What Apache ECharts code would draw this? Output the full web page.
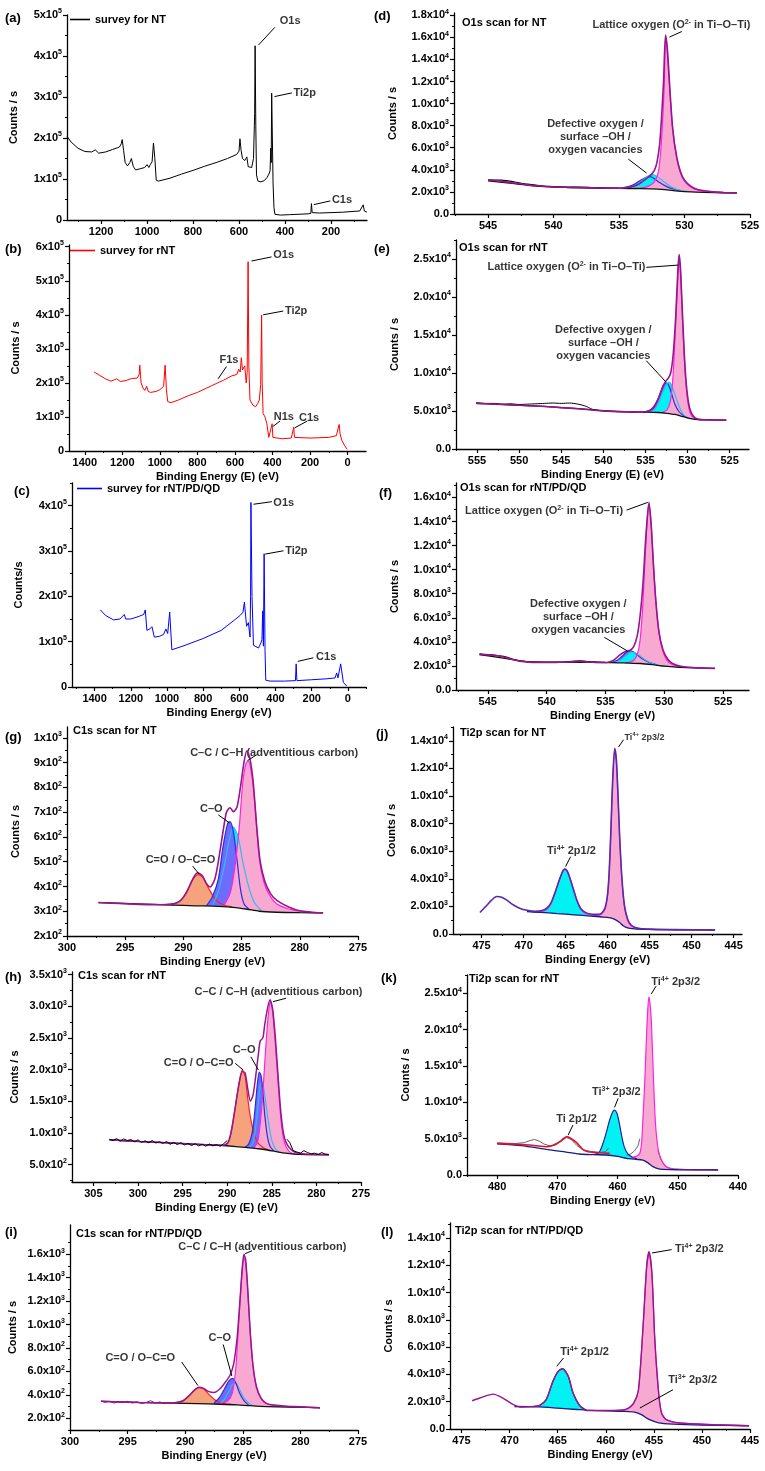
<!DOCTYPE html>
<html>
<head>
<meta charset="utf-8">
<script src="https://cdn.jsdelivr.net/npm/echarts@6/dist/echarts.min.js"></script>
<style>
  html, body { margin: 0; padding: 0; background: #fff; }
  #main { width: 765px; height: 1471px; }
</style>
</head>
<body>
<div id="main"></div>
<script>
// ---------- survey spectra [binding energy, counts/s] ----------
const aSurvey = [[1348,204000],[1330,190000],[1300,175000],[1270,167000],[1240,166000],[1225,171000],[1210,163000],[1180,166000],[1150,172000],[1130,176000],[1120,178000],[1112,186000],[1108,196000],[1102,170000],[1095,140000],[1085,132000],[1075,140000],[1068,150000],[1060,131000],[1050,122000],[1030,125000],[1010,128000],[1000,135000],[992,128000],[985,136000],[978,142000],[972,188000],[966,150000],[960,97000],[950,95000],[900,102000],[850,112000],[800,121000],[750,131000],[700,140000],[650,150000],[610,160000],[600,168000],[596,198000],[591,170000],[585,150000],[575,145000],[566,154000],[560,130000],[545,128000],[537,150000],[532,260000],[530,425000],[527,230000],[524,110000],[518,95000],[505,93000],[490,96000],[478,104000],[470,112000],[465,120000],[462,175000],[460,140000],[458,309000],[455,200000],[452,90000],[448,30000],[444,14000],[420,12000],[380,13000],[300,15000],[288,16000],[285,40000],[282,18000],[250,17000],[200,18000],[150,19000],[100,21000],[75,22000],[60,37000],[55,22000],[44,19000]];
const bSurvey = [[1350,232000],[1320,222000],[1290,212000],[1260,205000],[1230,212000],[1210,204000],[1180,207000],[1150,213000],[1120,214000],[1110,225000],[1107,252000],[1100,200000],[1090,185000],[1080,178000],[1070,190000],[1062,175000],[1050,172000],[1020,175000],[1000,180000],[990,178000],[980,190000],[972,252000],[965,180000],[958,145000],[940,142000],[900,150000],[850,162000],[800,172000],[750,185000],[700,198000],[680,203000],[660,208000],[620,220000],[590,225000],[580,240000],[572,232000],[566,274000],[560,238000],[548,250000],[540,200000],[535,230000],[530,556000],[526,250000],[520,150000],[505,135000],[490,130000],[478,140000],[470,150000],[463,195000],[458,399000],[455,200000],[450,110000],[440,100000],[430,80000],[420,40000],[410,35000],[402,80000],[398,40000],[350,36000],[300,38000],[287,70000],[283,40000],[200,38000],[100,40000],[60,45000],[45,78000],[40,50000],[30,30000],[15,15000],[2,5000]];
const cSurvey = [[1368,170000],[1340,158000],[1295,148000],[1260,150000],[1236,160000],[1228,150000],[1200,150000],[1160,155000],[1129,160000],[1120,170000],[1111,125000],[1095,128000],[1083,133000],[1070,110000],[1040,112000],[1019,116000],[1006,128000],[996,118000],[985,165000],[973,82000],[900,92000],[800,107000],[700,125000],[620,150000],[595,158000],[580,165000],[572,187000],[560,134000],[550,142000],[541,110000],[538,200000],[536,407000],[530,200000],[522,92000],[494,86000],[480,98000],[475,105000],[471,168000],[467,90000],[463,294000],[458,80000],[454,15000],[430,13000],[350,13000],[290,14000],[286,51000],[282,14000],[200,16000],[120,18000],[71,20000],[62,31000],[55,20000],[40,51000],[25,10000],[6,2000]];

// ---------- O1s NT (d) ----------
const dRaw  = [[545,3100],[544,3060],[543,2900],[542,2700],[541,2560],[540,2480],[539,2440],[538,2430],[537,2380],[536,2350],[535,2340]];
const dEnv  = [[545,3050],[544,2980],[543,2800],[542,2640],[541,2530],[540,2460],[539,2420],[538,2400],[537,2370],[536,2340],[535,2330],[534.5,2380],[534,2480],[533.5,2700],[533,3120],[532.6,3500],[532.3,3950],[532.1,4700],[531.9,6300],[531.75,8800],[531.6,12000],[531.45,16200],[531.3,14800],[531.1,11000],[530.9,7700],[530.6,5200],[530.3,3800],[530,3050],[529.5,2500],[529,2220],[528,2030],[527,1950],[526,1900]];
const dBg   = [[545,3000],[543,2760],[541,2500],[539,2400],[537,2350],[535,2320],[533.5,2300],[532.5,2280],[531.5,2200],[530.5,2080],[529.5,2000],[528.5,1960],[527,1920],[526,1900]];
const dBlue = [[535,2320],[534.3,2480],[533.8,2720],[533.3,3100],[532.9,3350],[532.6,3380],[532.3,3200],[531.9,2850],[531.4,2500],[530.8,2250],[530.2,2100]];
const dCyan = [[534.8,2320],[534.2,2420],[533.6,2700],[533.1,3150],[532.7,3500],[532.4,3560],[532.1,3400],[531.6,2950],[531,2450],[530.4,2150],[529.8,2040]];
const dPink = [[534,2310],[533.2,2380],[532.7,2550],[532.3,2900],[532,3800],[531.85,5200],[531.7,7800],[531.55,11500],[531.45,15900],[531.35,15200],[531.2,12500],[531,9000],[530.8,6600],[530.5,4500],[530.2,3400],[529.8,2700],[529.3,2300],[528.5,2050],[527.5,1960],[526.4,1905]];

// ---------- O1s rNT (e) ----------
const eRaw  = [[555.1,6100],[554,6000],[553,6000],[552,5900],[551,5950],[550,5850],[549,5900],[548,5950],[547,6000],[546,6050],[545,6000],[544,6050],[543,5900],[542,5600],[541.5,5300],[541,5150],[540,5000],[539,4950],[538,4900],[537,4900],[536,4850],[535,4850]];
const eEnv  = [[555.1,6000],[553,5900],[551,5800],[549,5700],[547,5600],[545,5450],[543,5300],[541,5100],[539,4950],[537,4880],[535.5,4850],[535,4900],[534.5,5050],[534,5500],[533.6,6300],[533.2,7400],[532.9,8300],[532.6,8900],[532.3,9300],[532,10000],[531.7,12500],[531.4,17500],[531.15,23500],[531,25600],[530.85,24000],[530.65,19000],[530.45,14000],[530.25,10000],[530,7000],[529.7,5200],[529.3,4300],[528.8,3950],[528,3850],[527,3820],[526,3800],[525.4,3800]];
const eBg   = [[555.1,6000],[551,5800],[547,5600],[543,5300],[540,5050],[537,4880],[535,4850],[533.5,4800],[532.5,4700],[531.5,4550],[530.5,4250],[529.5,3950],[528.5,3850],[527,3820],[525.4,3800]];
const eBlue = [[535.3,4850],[534.5,5100],[534,5600],[533.5,6600],[533.1,7800],[532.8,8500],[532.5,8700],[532.2,8300],[531.9,7300],[531.5,5900],[531,4900],[530.5,4400],[530,4100]];
const eCyan = [[534.5,4820],[533.9,5200],[533.4,6200],[532.9,7600],[532.5,8500],[532.2,8800],[531.9,8400],[531.5,7200],[531.1,5900],[530.7,4900],[530.2,4200],[529.7,3980]];
const ePink = [[533,4800],[532.4,5200],[532,6500],[531.7,10000],[531.45,15500],[531.2,21500],[531,25000],[530.85,23500],[530.65,18500],[530.45,13500],[530.25,9500],[530,6500],[529.7,4800],[529.3,4100],[528.8,3900],[528,3850],[527,3820],[525.9,3800]];

// ---------- O1s rNT/PD/QD (f) ----------
const fRaw  = [[545.7,3000],[544.5,2900],[543.5,2760],[542.5,2450],[541,2330],[539,2310],[537.2,2420],[536,2330],[535,2300]];
const fEnv  = [[545.7,2950],[545,2920],[544,2820],[543.5,2700],[543,2550],[542.3,2400],[541.5,2320],[540.5,2290],[540,2280],[539,2300],[538,2330],[537.2,2390],[536.5,2330],[535.5,2280],[534.9,2290],[534.3,2480],[533.8,2900],[533.3,3200],[532.9,3300],[532.6,3600],[532.3,4500],[532.05,6200],[531.8,9000],[531.55,13000],[531.3,15600],[531.1,13500],[530.9,10000],[530.7,7200],[530.45,4800],[530.1,3300],[529.7,2550],[529.3,2200],[528.5,1950],[527.3,1850],[526.5,1810],[525.7,1800]];
const fBg   = [[545.7,2950],[543,2550],[541.5,2320],[539,2290],[537,2300],[535,2280],[534,2260],[533,2240],[532,2200],[531,2100],[530,1980],[529,1900],[527.3,1840],[525.7,1800]];
const fBlue = [[534.6,2270],[534,2480],[533.6,2800],[533.2,3150],[532.9,3250],[532.6,3150],[532.2,2850],[531.8,2550],[531.2,2250],[530.6,2100]];
const fCyan = [[534.2,2270],[533.7,2500],[533.2,2900],[532.85,3150],[532.5,3100],[532.1,2850],[531.6,2500],[531,2200],[530.4,2030],[529.8,1960]];
const fPink = [[533.3,2250],[532.6,2450],[532.2,3300],[532,4700],[531.8,7500],[531.6,11500],[531.4,14800],[531.3,15400],[531.15,14300],[530.95,11000],[530.75,7800],[530.5,5200],[530.2,3500],[529.8,2500],[529.3,2100],[528.5,1900],[527.3,1840],[526.1,1805]];

// ---------- C1s NT (g) ----------
const gEnv    = [[297.3,335],[295,330],[292,326],[290.5,335],[289.8,370],[289.2,430],[288.8,455],[288.4,445],[288,410],[287.7,398],[287.3,430],[287,500],[286.6,620],[286.3,700],[286,718],[285.7,702],[285.4,720],[285.1,800],[284.8,900],[284.55,948],[284.3,920],[284,820],[283.7,640],[283.4,500],[283,420],[282.5,370],[282,345],[281,318],[280,302],[278,293]];
const gBg     = [[297.3,335],[294,330],[291,325],[289,322],[287,320],[285.5,315],[284.5,308],[283.5,300],[282,296],[280,294],[278,293]];
const gOrange = [[291,326],[290.2,345],[289.6,390],[289.1,435],[288.7,448],[288.3,435],[287.8,390],[287.2,345],[286.5,324],[285.8,318]];
const gCyan   = [[287.5,322],[287,380],[286.5,480],[286,600],[285.7,640],[285.3,600],[284.9,500],[284.4,400],[283.9,335],[283.3,302]];
const gBlue   = [[288,323],[287.5,360],[287,430],[286.6,560],[286.2,655],[286,662],[285.7,620],[285.4,510],[285.1,390],[284.8,330],[284.4,310]];
const gPink   = [[286.5,325],[286,370],[285.6,470],[285.2,640],[284.9,820],[284.6,900],[284.4,905],[284.1,840],[283.8,700],[283.5,520],[283.1,420],[282.6,365],[282,330],[281,310],[280,300],[278.4,293]];

// ---------- C1s rNT (h) ----------
const hRawL   = [[303.2,900],[302.8,880],[302.4,910],[302,870],[301.6,905],[301.2,880],[300.8,895],[300.4,860],[300,890],[299.6,850],[299.2,875],[298.8,845],[298.4,880],[298,840],[297.6,860],[297.2,835],[296.8,865],[296.4,820],[296,850],[295.6,815],[295.2,845],[294.8,810],[294.4,835],[294,800],[293.6,830],[293.2,795],[292.8,820],[292.4,790],[292,825],[291.6,795],[291.2,815],[290.8,790],[290.4,830],[290,880]];
const hRawR   = [[283.3,900],[283,850],[282.6,720],[282.2,700],[281.8,680],[281.4,720],[281,690],[280.6,670],[280.2,680],[279.8,660],[279.4,690],[279,665],[278.6,660]];
const hEnv    = [[303.2,890],[300,865],[297,845],[294,825],[291,805],[290.3,810],[289.9,850],[289.5,1050],[289.1,1400],[288.7,1750],[288.3,1970],[288,1950],[287.7,1700],[287.4,1500],[287.1,1600],[286.8,1900],[286.5,2250],[286.3,2450],[286,2500],[285.8,2700],[285.5,2950],[285.2,3100],[284.9,2950],[284.6,2500],[284.3,1900],[284,1350],[283.7,1000],[283.4,850],[283,760],[282.5,700],[282,680],[281,665],[280,660],[278.6,655]];
const hBg     = [[303.2,890],[300,865],[297,845],[294,825],[291,805],[289,785],[287.5,765],[286.5,750],[285.5,730],[284.5,705],[283.5,680],[282.5,665],[281,658],[278.6,655]];
const hOrange = [[290.3,805],[289.8,870],[289.4,1150],[289,1500],[288.6,1850],[288.3,1990],[288,1900],[287.7,1550],[287.4,1250],[287,1000],[286.6,850],[286,770],[285.3,730]];
const hCyan   = [[287.5,770],[287.1,850],[286.8,1100],[286.5,1500],[286.3,1750],[286.1,1800],[285.9,1700],[285.6,1400],[285.3,1100],[285,880],[284.6,750],[284.2,700]];
const hBlue   = [[288,775],[287.6,820],[287.2,1000],[286.9,1350],[286.6,1800],[286.4,1960],[286.2,1900],[286,1650],[285.8,1300],[285.5,950],[285.2,790],[284.8,720]];
const hPink   = [[287,765],[286.6,850],[286.3,1150],[286,1650],[285.7,2300],[285.4,2850],[285.15,3080],[284.9,2900],[284.6,2400],[284.3,1800],[284,1250],[283.7,920],[283.4,780],[283,700],[282.5,670],[281.5,660],[280,657],[279,656]];

// ---------- C1s rNT/PD/QD (i) ----------
const iRaw    = [[297.3,350],[297,335],[296.6,345],[296.2,330],[295.8,340],[295.4,335],[295,345],[294.6,330],[294.2,340],[293.8,325],[293.4,335],[293,350],[292.6,330],[292.2,340],[291.8,325],[291.4,335],[291,330],[290.6,340],[290.2,345]];
const iEnv    = [[297.3,345],[294,335],[291,333],[290.2,350],[289.7,390],[289.2,440],[288.8,465],[288.4,455],[288,430],[287.5,420],[287,450],[286.5,510],[286.1,570],[285.8,660],[285.5,880],[285.25,1200],[285.05,1480],[284.9,1600],[284.75,1550],[284.55,1270],[284.35,930],[284.1,640],[283.8,465],[283.4,370],[283,330],[282.5,315],[281.5,305],[280.5,300],[279.5,295],[278.3,290]];
const iBg     = [[297.3,345],[294,335],[291,330],[289,325],[287,320],[285.5,315],[284.5,308],[283.5,302],[282,298],[280,295],[278.3,290]];
const iOrange = [[290.5,332],[290,360],[289.5,410],[289.1,450],[288.8,462],[288.4,450],[287.9,400],[287.4,355],[286.8,330],[286,318]];
const iCyan   = [[287,322],[286.6,360],[286.2,430],[285.9,490],[285.6,500],[285.3,450],[285,390],[284.6,340],[284.2,310]];
const iBlue   = [[287.5,328],[287,380],[286.6,450],[286.2,520],[285.9,540],[285.6,500],[285.3,420],[284.9,350],[284.5,312]];
const iPink   = [[287,322],[286.3,350],[285.9,420],[285.6,640],[285.35,1020],[285.1,1400],[284.9,1570],[284.75,1530],[284.55,1250],[284.35,920],[284.1,630],[283.8,455],[283.4,365],[283,328],[282.3,310],[281,300],[279.5,295],[278.7,291]];

// ---------- Ti2p NT (j) ----------
const jEnv  = [[475.2,1560],[474.5,2000],[473.8,2450],[473.2,2720],[472.6,2660],[472,2450],[471.2,2100],[470.4,1850],[469.6,1720],[468.6,1640],[467.8,1700],[467.2,1900],[466.7,2300],[466.2,3100],[465.7,4000],[465.3,4600],[465.1,4700],[464.8,4550],[464.4,3900],[464,3100],[463.6,2350],[463.2,1850],[462.6,1550],[461.8,1430],[461.2,1420],[460.7,1520],[460.3,1900],[460,2900],[459.8,4600],[459.6,7600],[459.4,11100],[459.15,13450],[458.95,12600],[458.75,9900],[458.55,6900],[458.3,4100],[458,2100],[457.6,1050],[457.2,650],[456.5,440],[455,350],[452,320],[447.2,295]];
const jBg   = [[469.6,1620],[468,1570],[466,1480],[464,1390],[462,1300],[460.5,1230],[459.8,1180],[459.2,1080],[458.6,850],[458.1,580],[457.5,420],[456.5,350],[454,320],[450,300],[447.2,290]];
const jCyan = [[469,1600],[468,1620],[467.3,1750],[466.8,2100],[466.3,2900],[465.8,3800],[465.4,4450],[465.1,4700],[464.8,4550],[464.4,3900],[464,3100],[463.6,2350],[463.2,1800],[462.7,1500],[462,1380],[461,1300]];
const jPink = [[461.5,1320],[460.8,1420],[460.3,1800],[460,2800],[459.8,4500],[459.6,7500],[459.4,11000],[459.15,13300],[458.95,12500],[458.75,9800],[458.55,6800],[458.3,4000],[458,2000],[457.6,1000],[457.2,600],[456.5,420],[455,340],[452,310],[447.6,292]];

// ---------- Ti2p rNT (k) ----------
const kRawL = [[480,4400],[477,4330],[475.5,4450],[474.5,4750],[473.8,4880],[473,4650],[472.2,4250],[471.2,4000],[470.3,4100],[469.4,4600],[468.5,5150],[467.7,4900],[466.8,4100],[465.8,3500],[464.5,3250],[463,3100],[462,3200],[461.5,3700]];
const kRawM = [[458.5,2700],[457.8,2900],[457.2,3300],[456.6,4000],[456.3,5000]];
const kRawR = [[453.3,3400],[452.8,2100],[452.3,1400],[451.6,1000],[450.5,820],[448,740],[445,715],[443.3,705]];
const kBg   = [[480,4300],[476,4050],[471.8,3530],[469,3200],[466.3,2890],[464,2800],[461.9,2750],[460,2550],[458.5,2290],[457,2150],[455.8,2060],[455,1700],[454.1,1150],[453.2,850],[452.5,780],[450,720],[446,700],[443.3,690]];
const kRed  = [[480,4350],[477,4230],[474.6,4120],[472.8,3950],[471.8,3890],[470.8,4050],[469.6,4580],[468.9,5050],[468.4,5270],[467.8,5050],[466.8,4450],[466.2,3900],[465.7,3450],[464.9,3200],[464.1,3115],[463,3050],[461.3,2980]];
const kCyan = [[463.8,2800],[463,3200],[462.4,4400],[461.9,5750],[461.3,7600],[460.8,8700],[460.5,8930],[460.1,8500],[459.7,7100],[459.3,5300],[458.9,3900],[458.3,2900],[457.5,2420],[456.8,2250]];
const kPink = [[457.5,2420],[456.8,2600],[456.3,3000],[456,4500],[455.8,7500],[455.5,12500],[455.2,18900],[455,22500],[454.8,24500],[454.6,23500],[454.4,21300],[454.2,17000],[454,12500],[453.8,8500],[453.57,5700],[453.2,3300],[452.7,2060],[452,1200],[451.4,920],[450,760],[446,710],[443.7,700]];

// ---------- Ti2p rNT/PD/QD (l) ----------
const lEnv  = [[473.9,2070],[473.1,2270],[471.7,2560],[470.7,2270],[469.6,1780],[468.9,1610],[467.5,1660],[466.9,1710],[466.2,2150],[465.5,3490],[464.95,4220],[464.5,4420],[463.9,3860],[463.4,2640],[462.7,1710],[462,1360],[459.2,1360],[457.8,1470],[457.1,1900],[456.6,2880],[456.1,7770],[455.75,11900],[455.5,13000],[455.2,11400],[454.9,6550],[454.5,2640],[454.2,1170],[453.7,680],[452.3,440],[448.8,315],[445.1,240]];
const lBg   = [[469.5,1650],[467,1620],[465,1530],[463,1430],[462,1380],[460,1330],[458,1290],[457,1230],[456.3,1050],[455.5,700],[454.5,450],[453,360],[450,290],[445.1,240]];
const lCyan = [[467.5,1640],[466.9,1720],[466.2,2150],[465.5,3490],[464.95,4220],[464.5,4420],[463.9,3860],[463.4,2640],[462.7,1710],[462,1380]];
const lPink = [[458.5,1310],[457.8,1460],[457.1,1880],[456.6,2860],[456.1,7750],[455.75,11850],[455.5,12950],[455.2,11400],[454.9,6550],[454.5,2640],[454.2,1170],[453.7,680],[452.3,440],[448.8,315],[445.5,245]];

// ---------- axis ticks ----------
const surveyTicksA = [200,400,600,800,1000,1200];
const surveyTicksBC = [0,200,400,600,800,1000,1200,1400];
const o1sTicksD = [525,530,535,540,545];
const o1sTicksE = [525,530,535,540,545,550,555];
const c1sTicksG = [275,280,285,290,295,300];
const c1sTicksH = [275,280,285,290,295,300,305];
const ti2pTicksJ = [445,450,455,460,465,470,475];
const ti2pTicksK = [440,450,460,470,480];
const countTicksA = [0,100000,200000,300000,400000,500000];
const countTicksB = [0,100000,200000,300000,400000,500000,600000];
const countTicksC = [0,100000,200000,300000,400000];
const countTicksD = [0,2000,4000,6000,8000,10000,12000,14000,16000,18000];
const countTicksE = [0,5000,10000,15000,20000,25000];
const countTicksF = [0,2000,4000,6000,8000,10000,12000,14000,16000];
const countTicksG = [200,300,400,500,600,700,800,900,1000];
const countTicksH = [500,1000,1500,2000,2500,3000,3500];
const countTicksI = [200,400,600,800,1000,1200,1400,1600];
const countTicksJ = [0,2000,4000,6000,8000,10000,12000,14000];

const F = '"Liberation Sans", Arial, sans-serif';
const RICH = {
  b: { fontSize: 11, fontWeight: 'bold', fontFamily: F, color: '#000', lineHeight: 14 },
  s: { fontSize: 7, fontWeight: 'bold', fontFamily: F, color: '#000', verticalAlign: 'top', lineHeight: 9 }
};

function mids(t, lo, hi) {
  const step = t[1] - t[0], out = [];
  for (let v = t[0] - step / 2; v <= hi; v += step) if (v >= lo) out.push(v);
  return out;
}
function sciFmt(dec) {
  return function (v) {
    if (Math.abs(v) < 1e-9) return '{b|' + (dec ? '0.0' : '0') + '}';
    const e = Math.floor(Math.log10(v) + 1e-9);
    const m = v / Math.pow(10, e);
    return '{b|' + m.toFixed(dec) + 'x10}{s|' + e + '}';
  };
}
function axis(dir, gi, range, ticks, fmt, name, gap) {
  return {
    type: 'value', gridIndex: gi, min: range[0], max: range[1], inverse: dir === 'x', z: 10,
    position: dir === 'x' ? 'bottom' : 'left',
    axisLine: { show: true, onZero: false, lineStyle: { color: '#000', width: 1.3 } },
    axisTick: { show: true, customValues: ticks, length: 4, lineStyle: { color: '#000', width: 1.2 } },
    axisLabel: { show: true, customValues: ticks, formatter: fmt, color: '#000', fontSize: 11, fontWeight: 'bold',
                 fontFamily: F, margin: 5, rich: RICH },
    splitLine: { show: false },
    name: name || '', nameLocation: 'middle', nameGap: gap || 20,
    nameTextStyle: { color: '#000', fontSize: 11, fontWeight: 'bold', fontFamily: F }
  };
}
function minorAxis(dir, gi, range, ticks) {
  return {
    type: 'value', gridIndex: gi, min: range[0], max: range[1], inverse: dir === 'x', z: 10,
    position: dir === 'x' ? 'bottom' : 'left',
    axisLine: { show: false, onZero: false },
    axisTick: { show: true, customValues: ticks, length: 2, lineStyle: { color: '#000', width: 1 } },
    axisLabel: { show: false }, splitLine: { show: false }
  };
}
function line(data, color, width, name) {
  return { type: 'line', name: name, data: data, symbol: 'none', smooth: 0.25, silent: true,
           itemStyle: { color: color }, lineStyle: { color: color, width: width || 1.2 } };
}
function raw(data, color, width, name) {
  const s = line(data, color, width, name); s.smooth = false; return s;
}
function fill(data, fillColor, lineColor) {
  const s = line(data, lineColor, 1.2);
  s.areaStyle = { color: fillColor, opacity: 1, origin: 'start' };
  return s;
}
function mask(data, lineColor) {
  const s = line(data, lineColor, 1.3);
  s.areaStyle = { color: '#fff', opacity: 1, origin: 'start' };
  return s;
}
function RICH2(sz) {
  return { s: { fontSize: Math.round(sz * 0.62), fontWeight: 'bold', fontFamily: F, color: '#000', verticalAlign: 'top', lineHeight: 8 } };
}
// text labels and arrows in data coordinates
function notes(texts, arrows) {
  return {
    type: 'scatter', symbolSize: 0, silent: true, itemStyle: { color: 'rgba(0,0,0,0)' },
    data: texts.map(t => ({ value: t.at, label: { show: true, position: 'inside', formatter: t.text,
      align: t.align || 'center', verticalAlign: 'middle', color: '#000', fontSize: t.size || 11,
      fontWeight: 'bold', fontFamily: F, lineHeight: 13, rich: RICH2(t.size || 11) } })),
    markLine: { silent: true, symbol: ['none', 'arrow'], symbolSize: [0, 6], label: { show: false },
      lineStyle: { color: '#000', width: 1, type: 'solid' },
      data: arrows.map(a => [{ coord: a[0] }, { coord: a[1] }]) }
  };
}

const PINK = '#f7a9d2', PINKL = '#ff22dd', CYAN = '#00f2f2', CYANL = '#33bbee', BLUE = '#6c6cff', BLUEL = '#2c2cd8';
const ORANGE = '#f6a27c', ORANGEL = '#ff2020', ENV = '#96168e', BG = '#111';

const panels = [
  { grid: { left: 67, top: 15, width: 300, height: 205 }, x: [43.5, 1348], xT: surveyTicksA, y: [0, 500000], yT: countTicksA, dec: 0,
    yName: 'Counts / s', yGap: 48,
    series: [raw(aSurvey, '#000', 1, 'survey for NT'),
      notes([{ at: [423, 486000], text: 'O1s', align: 'left' }, { at: [363, 310500], text: 'Ti2p', align: 'left' }, { at: [196, 49000], text: 'C1s', align: 'left' }],
            [[[444, 470000], [515, 427000]], [[370, 310000], [446, 301000]], [[203, 46600], [275, 37500]]])] },
  { grid: { left: 69, top: 245, width: 297, height: 206 }, x: [-98, 1484], xT: surveyTicksBC, y: [0, 605000], yT: countTicksB, dec: 0,
    yName: 'Counts / s', yGap: 48, xName: 'Binding Energy (E) (eV)',
    series: [raw(bSurvey, '#ff0000', 1, 'survey for rNT'),
      notes([{ at: [396, 575000], text: 'O1s', align: 'left' }, { at: [334, 411000], text: 'Ti2p', align: 'left' }, { at: [632, 267000], text: 'F1s' },
             { at: [340, 100000], text: 'N1s' }, { at: [205, 96000], text: 'C1s' }],
            [[[405, 570000], [512, 558000]], [[343, 411000], [450, 400000]], [[645, 248000], [690, 212000]],
             [[360, 88000], [398, 72000]], [[215, 88000], [282, 68000]]])] },
  { grid: { left: 72, top: 483, width: 294, height: 204 }, x: [-100, 1525], xT: surveyTicksBC, y: [0, 450000], yT: countTicksC, dec: 0,
    yName: 'Counts/s', yGap: 48, xName: 'Binding Energy (eV)',
    series: [raw(cSurvey, '#0000ff', 1, 'survey for rNT/PD/QD'),
      notes([{ at: [412, 406600], text: 'O1s', align: 'left' }, { at: [347, 300500], text: 'Ti2p', align: 'left' }, { at: [176, 66000], text: 'C1s', align: 'left' }],
            [[[420, 408800], [522, 403100]], [[356, 300500], [457, 293200]], [[191, 64400], [277, 56500]]])] },
  { grid: { left: 454, top: 13, width: 296, height: 201 }, x: [525, 547.6], xT: o1sTicksD, y: [0, 18200], yT: countTicksD, dec: 1,
    yName: 'Counts / s', yGap: 56,
    series: [fill(dBlue, BLUE, BLUEL), fill(dCyan, CYAN, CYANL), fill(dPink, PINK, PINKL), mask(dBg, BG),
      line(dRaw, '#000', 1.2), line(dEnv, ENV, 1.6),
      notes([{ at: [531.0, 17130], text: 'Lattice oxygen (O{s|2-} in Ti–O–Ti)' }, { at: [536.8, 7020], text: 'Defective oxygen /\nsurface –OH /\noxygen vacancies' }],
            [[[530.2, 16525], [531.15, 16020]], [[534.3, 4980], [532.9, 3710]]])] },
  { grid: { left: 456, top: 240, width: 293, height: 209 }, x: [522.7, 557.5], xT: o1sTicksE, y: [0, 27500], yT: countTicksE, dec: 1,
    yName: 'Counts / s', yGap: 56, xName: 'Binding Energy (E) (eV)',
    series: [fill(eBlue, BLUE, BLUEL), fill(eCyan, CYAN, CYANL), fill(ePink, PINK, PINKL), mask(eBg, BG),
      line(eRaw, '#000', 1), line(eEnv, ENV, 1.6),
      notes([{ at: [535.0, 24000], text: 'Lattice oxygen (O{s|2-} in Ti–O–Ti)', align: 'right' }, { at: [540.0, 13900], text: 'Defective oxygen /\nsurface –OH /\noxygen vacancies' }],
            [[[534.9, 23900], [531.1, 24200]], [[534.9, 11620], [532.6, 8860]]])] },
  { grid: { left: 456, top: 483, width: 293, height: 207 }, x: [522.8, 547.7], xT: o1sTicksD, y: [0, 17200], yT: countTicksF, dec: 1,
    yName: 'Counts / s', yGap: 56, xName: 'Binding Energy (eV)',
    series: [fill(fBlue, BLUE, BLUEL), fill(fCyan, CYAN, CYANL), fill(fPink, PINK, PINKL), mask(fBg, BG),
      line(fRaw, '#000', 1.2), line(fEnv, ENV, 1.6),
      notes([{ at: [533.5, 14900], text: 'Lattice oxygen (O{s|2-} in Ti–O–Ti)', align: 'right' }, { at: [537.3, 6040], text: 'Defective oxygen /\nsurface –OH /\noxygen vacancies' }],
            [[[533.2, 14950], [531.4, 15590]], [[535.1, 4380], [533.1, 3220]]])] },
  { grid: { left: 67, top: 727, width: 291, height: 209 }, x: [275, 300], xT: c1sTicksG, y: [200, 1044], yT: countTicksG, dec: 0,
    yName: 'Counts / s', yGap: 46, xName: 'Binding Energy (eV)',
    series: [fill(gOrange, ORANGE, ORANGEL), fill(gCyan, CYAN, CYANL), fill(gBlue, BLUE, BLUEL), fill(gPink, PINK, PINKL), mask(gBg, BG),
      line(gEnv, ENV, 1.6),
      notes([{ at: [282.2, 941], text: 'C–C / C–H (adventitious carbon)' }, { at: [287.6, 712], text: 'C–O' }, { at: [290.25, 506], text: 'C=O / O–C=O' }],
            [[[283.7, 932], [284.5, 908]], [[287.0, 689], [286.05, 657]], [[289.2, 482], [288.65, 450]]])] },
  { grid: { left: 72, top: 972, width: 289, height: 210 }, x: [275, 307.4], xT: c1sTicksH, y: [225, 3540], yT: countTicksH, dec: 1,
    yName: 'Counts / s', yGap: 52, xName: 'Binding Energy (E) (eV)',
    series: [fill(hOrange, ORANGE, ORANGEL), fill(hCyan, CYAN, CYANL), fill(hBlue, BLUE, BLUEL), fill(hPink, PINK, PINKL), mask(hBg, BG),
      line(hEnv, ENV, 1.5), raw(hRawL, '#000', 1), raw(hRawR, '#000', 1),
      notes([{ at: [284.25, 3221], text: 'C–C / C–H (adventitious carbon)' }, { at: [288.1, 2308], text: 'C–O' }, { at: [289.3, 2098], text: 'C=O / O–C=O', align: 'right' }],
            [[[283.4, 3126], [284.85, 3072]], [[287.35, 2202], [286.5, 1992]], [[289.1, 2098], [288.2, 1992]]])] },
  { grid: { left: 70, top: 1225, width: 288, height: 205 }, x: [275, 300], xT: c1sTicksG, y: [100, 1850], yT: countTicksI, dec: 1,
    yName: 'Counts / s', yGap: 52, xName: 'Binding Energy (eV)',
    series: [fill(iOrange, ORANGE, ORANGEL), fill(iCyan, CYAN, CYANL), fill(iBlue, BLUE, BLUEL), fill(iPink, PINK, PINKL), mask(iBg, BG),
      raw(iRaw, ENV, 1), line(iEnv, ENV, 1.5),
      notes([{ at: [283.3, 1665], text: 'C–C / C–H (adventitious carbon)' }, { at: [287.0, 885], text: 'C–O' }, { at: [293.9, 714], text: 'C=O / O–C=O' }],
            [[[284.2, 1630], [284.8, 1605]], [[286.7, 830], [285.95, 560]], [[290.3, 680], [288.9, 480]]])] },
  { grid: { left: 453, top: 727, width: 289, height: 207 }, x: [444, 478.4], xT: ti2pTicksJ, y: [0, 15000], yT: countTicksJ, dec: 1,
    yName: 'Counts / s', yGap: 56, xName: 'Binding Energy (eV)',
    series: [fill(jCyan, CYAN, PINKL), fill(jPink, PINK, PINKL), mask(jBg, '#1a1a80'),
      line(jEnv, '#5a2aa8', 1.6),
      notes([{ at: [458.0, 14220], text: 'Ti{s|4+} 2p3/2', align: 'left', size: 9 }, { at: [464.3, 6040], text: 'Ti{s|4+} 2p1/2' }],
            [[[458.1, 14080], [458.7, 13545]], [[464.4, 5600], [465.0, 4880]]])] },
  { grid: { left: 467, top: 975, width: 271, height: 200 }, x: [440, 485], xT: ti2pTicksK, y: [0, 27500], yT: countTicksE, dec: 1,
    yName: 'Counts / s', yGap: 56, xName: 'Binding Energy (eV)',
    series: [raw(kRawL, '#666', 1), raw(kRawM, '#666', 1), raw(kRawR, '#666', 1), fill(kCyan, CYAN, '#22229a'), fill(kPink, PINK, PINKL), mask(kBg, '#1a1a80'),
      line(kRed, '#e01030', 1.6),
      notes([{ at: [454.4, 26560], text: 'Ti{s|4+} 2p3/2', align: 'left' }, { at: [460.2, 11450], text: 'Ti{s|3+} 2p3/2' }, { at: [466.8, 7690], text: 'Ti 2p1/2' }],
            [[[453.6, 25970], [454.4, 24900]], [[459.9, 10540], [460.5, 9300]], [[467.4, 6870], [468.2, 5500]]])] },
  { grid: { left: 450, top: 1223, width: 300, height: 206 }, x: [445, 476.2], xT: ti2pTicksJ, y: [0, 15100], yT: countTicksJ, dec: 1,
    yName: 'Counts / s', yGap: 56, xName: 'Binding Energy (eV)',
    series: [fill(lCyan, CYAN, '#22229a'), fill(lPink, PINK, PINKL), mask(lBg, '#1a1a80'),
      line(lEnv, ENV, 1.4),
      notes([{ at: [452.8, 13194], text: 'Ti{s|4+} 2p3/2', align: 'left' }, { at: [462.2, 5615], text: 'Ti{s|4+} 2p1/2' }, { at: [453.5, 3614], text: 'Ti{s|3+} 2p3/2', align: 'left' }],
            [[[453.15, 13150], [455.2, 12900]], [[464.4, 5204], [465.1, 4589]], [[453.0, 2881], [456.45, 1539]]])] }
];

const letters = [['(a)', 5, 12], ['(b)', 5, 243], ['(c)', 14, 485], ['(d)', 374, 10], ['(e)', 374, 243], ['(f)', 379, 487],
                 ['(g)', 5, 731], ['(h)', 5, 971], ['(i)', 5, 1226], ['(j)', 376, 728], ['(k)', 381, 972], ['(l)', 381, 1226]];
const scanTitles = [['O1s scan for NT', 462, 17], ['O1s scan for rNT', 459, 242], ['O1s scan for rNT/PD/QD', 460, 482],
                    ['C1s scan for NT', 73, 725], ['C1s scan for rNT', 78, 970], ['C1s scan for rNT/PD/QD', 76, 1228],
                    ['Ti2p scan for NT', 460, 727], ['Ti2p scan for rNT', 469, 973], ['Ti2p scan for rNT/PD/QD', 455, 1225]];

const option = { animation: false, backgroundColor: '#fff', title: [], legend: [], grid: [], xAxis: [], yAxis: [], series: [] };

letters.forEach(l => option.title.push({ text: l[0], left: l[1], top: l[2], padding: 0,
  textStyle: { fontSize: 13, fontWeight: 'bold', fontFamily: F, color: '#000' } }));
scanTitles.forEach(t => option.title.push({ text: t[0], left: t[1], top: t[2], padding: 0,
  textStyle: { fontSize: 11, fontWeight: 'bold', fontFamily: F, color: '#000' } }));

[['survey for NT', 70, 14, 20], ['survey for rNT', 70, 245, 25], ['survey for rNT/PD/QD', 77, 483, 25]].forEach(l =>
  option.legend.push({ data: [l[0]], left: l[1], top: l[2], padding: 0, icon: 'rect', itemWidth: l[3], itemHeight: 1.6,
    itemGap: 0, textStyle: { fontSize: 11, fontWeight: 'bold', fontFamily: F, color: '#000' } }));

panels.forEach((p, gi) => {
  option.grid.push(p.grid);
  const xi = option.xAxis.length, yi = option.yAxis.length;
  option.xAxis.push(axis('x', gi, p.x, p.xT, v => '{b|' + v + '}', p.xName, 20),
                    minorAxis('x', gi, p.x, mids(p.xT, p.x[0], p.x[1])));
  option.yAxis.push(axis('y', gi, p.y, p.yT, sciFmt(p.dec), p.yName, p.yGap),
                    minorAxis('y', gi, p.y, mids(p.yT, p.y[0], p.y[1])));
  p.series.forEach(s => { s.xAxisIndex = xi; s.yAxisIndex = yi; option.series.push(s); });
});

const chart = echarts.init(document.getElementById('main'), null, { renderer: 'canvas' });
chart.setOption(option);
</script>
</body>
</html>
